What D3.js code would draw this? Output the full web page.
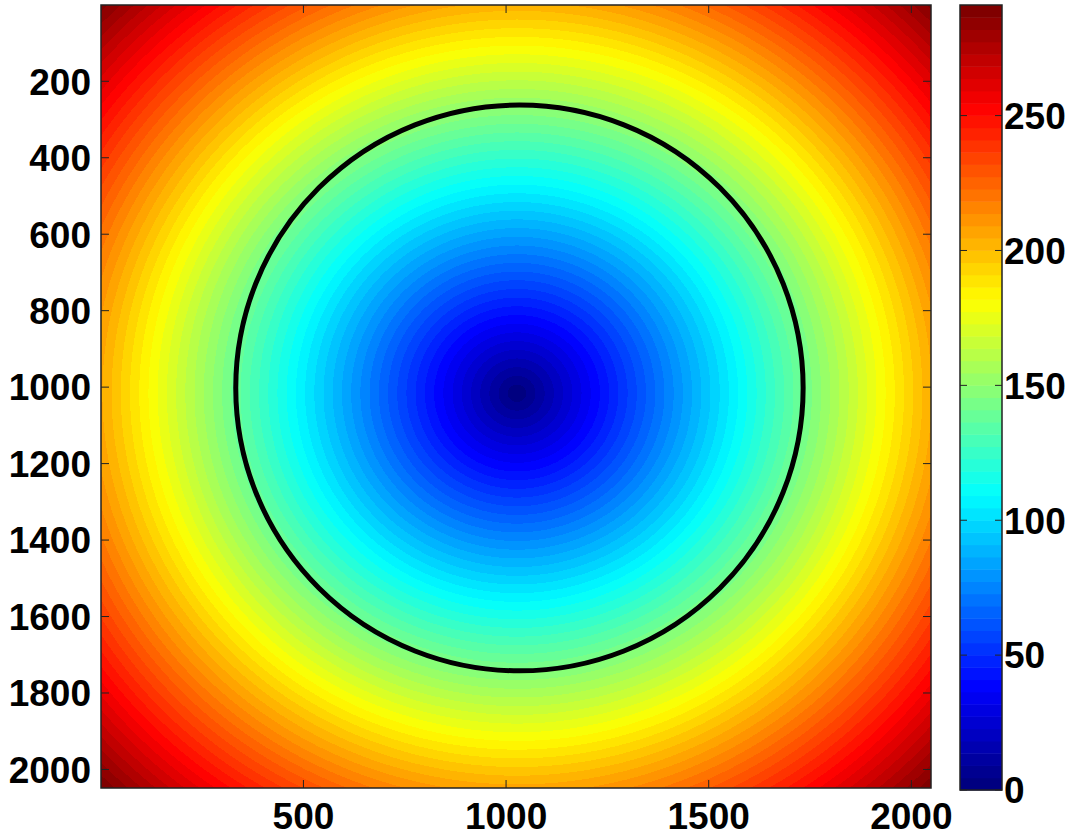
<!DOCTYPE html>
<html>
<head>
<meta charset="utf-8">
<script src="https://cdn.jsdelivr.net/npm/d3@7"></script>
<style>
  body { margin: 0; background: #fff; }
  svg { display: block; }
  text { font-family: "Liberation Sans", Arial, sans-serif; font-weight: bold; }
</style>
</head>
<body>
<svg id="chart" width="1073" height="836"></svg>
<script>
// valores
var imageSize = [2048, 2048];          // pixeles de la imagen
var fieldCenter = [1027, 1016];        // minimo del campo (x, y)
var valuePerPixel = 0.2;               // valor por pixel de distancia
var colorRange = [0, 291];             // limites de la barra de color
var circleCenter = [1033, 1002];       // circulo negro (x, y)
var circleRadius = [700, 740];         // radios en unidades de cada eje
var xTicks = [500, 1000, 1500, 2000];
var yTicks = [200, 400, 600, 800, 1000, 1200, 1400, 1600, 1800, 2000];
var cbarTicks = [0, 50, 100, 150, 200, 250];

var plot = { left: 101, top: 5, right: 931, bottom: 788 };
var cbar = { left: 960, right: 1002, top: 5, bottom: 790 };

var svg = d3.select("#chart");

var x = d3.scaleLinear().domain([0.5, imageSize[0] + 0.5]).range([plot.left, plot.right]);
var y = d3.scaleLinear().domain([0.5, imageSize[1] + 0.5]).range([plot.top, plot.bottom]);
var c = d3.scaleLinear().domain(colorRange).range([cbar.bottom, cbar.top]);

// colormap jet de 64 niveles
var jet = d3.scaleLinear()
    .domain([0, 0.125, 0.375, 0.625, 0.875, 1])
    .range(["#000080", "#0000ff", "#00ffff", "#ffff00", "#ff0000", "#800000"])
    .clamp(true);
var niveles = d3.range(64).map(function (i) { return d3.rgb(jet(i / 63)); });
var color = d3.scaleQuantize().domain(colorRange).range(niveles);

// Imagen del campo dibujada en un canvas
var w = plot.right - plot.left, h = plot.bottom - plot.top;
var canvas = document.createElement("canvas");
canvas.width = w; canvas.height = h;
var ctx = canvas.getContext("2d");
var img = ctx.createImageData(w, h);
for (var j = 0; j < h; j++) {
    var dy = y.invert(plot.top + j + 0.5) - fieldCenter[1];
    for (var i = 0; i < w; i++) {
        var dx = x.invert(plot.left + i + 0.5) - fieldCenter[0];
        var v = valuePerPixel * Math.sqrt(dx * dx + dy * dy);
        var col = color(v);
        var k = (j * w + i) * 4;
        img.data[k] = col.r; img.data[k + 1] = col.g; img.data[k + 2] = col.b; img.data[k + 3] = 255;
    }
}
ctx.putImageData(img, 0, 0);
svg.append("image")
    .attr("x", plot.left).attr("y", plot.top)
    .attr("width", w).attr("height", h)
    .attr("preserveAspectRatio", "none")
    .attr("href", canvas.toDataURL());

// Circulo
svg.append("ellipse")
    .attr("cx", x(circleCenter[0])).attr("cy", y(circleCenter[1]))
    .attr("rx", x(circleCenter[0] + circleRadius[0]) - x(circleCenter[0]))
    .attr("ry", y(circleCenter[1] + circleRadius[1]) - y(circleCenter[1]))
    .attr("fill", "none").attr("stroke", "#000").attr("stroke-width", 5);

// Ejes (ticks hacia dentro, estilo matlab)
var tickLen = 8;
var ax = svg.append("g");
xTicks.forEach(function (t) {
    ax.append("line").attr("x1", x(t)).attr("x2", x(t)).attr("y1", plot.bottom).attr("y2", plot.bottom - tickLen);
    ax.append("line").attr("x1", x(t)).attr("x2", x(t)).attr("y1", plot.top).attr("y2", plot.top + tickLen);
    ax.append("text").attr("x", x(t)).attr("y", 829).attr("text-anchor", "middle")
        .style("font-size", "37px").text(t);
});
yTicks.forEach(function (t) {
    ax.append("line").attr("x1", plot.left).attr("x2", plot.left + tickLen).attr("y1", y(t)).attr("y2", y(t));
    ax.append("line").attr("x1", plot.right).attr("x2", plot.right - tickLen).attr("y1", y(t)).attr("y2", y(t));
    ax.append("text").attr("x", 91).attr("y", y(t)).attr("dy", "0.36em").attr("text-anchor", "end")
        .style("font-size", "37px").text(t);
});
ax.selectAll("line").attr("stroke", "#222").attr("stroke-width", 1);
svg.append("rect")
    .attr("x", plot.left).attr("y", plot.top).attr("width", w).attr("height", h)
    .attr("fill", "none").attr("stroke", "#222").attr("stroke-width", 1.5);

// Barra de color
var cb = svg.append("g");
niveles.forEach(function (col, i) {
    var v0 = colorRange[0] + (colorRange[1] - colorRange[0]) * i / 64;
    var v1 = colorRange[0] + (colorRange[1] - colorRange[0]) * (i + 1) / 64;
    cb.append("rect")
        .attr("x", cbar.left).attr("width", cbar.right - cbar.left)
        .attr("y", c(v1)).attr("height", c(v0) - c(v1) + 0.5)
        .attr("fill", col);
});
cbarTicks.forEach(function (t) {
    cb.append("line").attr("class", "tk").attr("x1", cbar.left).attr("x2", cbar.left + 7).attr("y1", c(t)).attr("y2", c(t));
    cb.append("line").attr("class", "tk").attr("x1", cbar.right).attr("x2", cbar.right - 7).attr("y1", c(t)).attr("y2", c(t));
    cb.append("text").attr("x", cbar.right + 2).attr("y", c(t)).attr("dy", "0.36em")
        .style("font-size", "37px").text(t);
});
cb.selectAll(".tk").attr("stroke", "#222").attr("stroke-width", 1);
cb.append("rect")
    .attr("x", cbar.left).attr("y", cbar.top)
    .attr("width", cbar.right - cbar.left).attr("height", cbar.bottom - cbar.top)
    .attr("fill", "none").attr("stroke", "#222").attr("stroke-width", 1.5);
</script>
</body>
</html>
